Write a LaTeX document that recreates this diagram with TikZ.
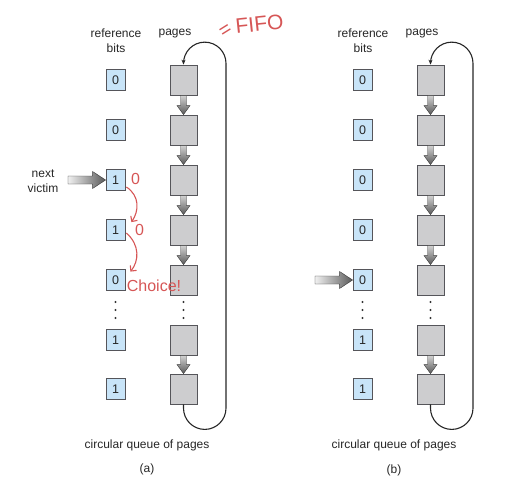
\documentclass[tikz,border=0pt]{standalone}
\usepackage{fontspec}
\setmainfont{Liberation Sans}
\usetikzlibrary{arrows.meta,calc}
\definecolor{bitfill}{RGB}{200,228,248}
\definecolor{pagefill}{RGB}{205,205,207}
\definecolor{boxline}{RGB}{85,85,90}
\definecolor{pen}{RGB}{214,86,86}
\newcommand\pagearrow[2]{%
  \shade[varrow] ([xshift=-3pt]#1.south) -- ([xshift=-3pt,yshift=9pt]#2.north)
    -- ([xshift=-6.5pt,yshift=9pt]#2.north) -- (#2.north)
    -- ([xshift=6.5pt,yshift=9pt]#2.north) -- ([xshift=3pt,yshift=9pt]#2.north)
    -- ([xshift=3pt]#1.south) -- cycle;}
\newcommand\victimarrow[2]{%
  \shade[harrow] ([yshift=4pt]#1) -- ([xshift=-13pt,yshift=4pt]#2.west)
    -- ([xshift=-13pt,yshift=8.5pt]#2.west) -- (#2.west)
    -- ([xshift=-13pt,yshift=-8.5pt]#2.west) -- ([xshift=-13pt,yshift=-4pt]#2.west)
    -- ([yshift=-4pt]#1) -- cycle;}
\begin{document}
\begin{tikzpicture}[x=1pt,y=-1pt,
  bit/.style={draw=boxline,fill=bitfill,line width=0.8pt,minimum width=19pt,minimum height=21pt,inner sep=0pt,font=\fontsize{12.5}{13}\selectfont,text=black!85},
  page/.style={draw=boxline,fill=pagefill,line width=0.8pt,minimum width=27pt,minimum height=30pt,inner sep=0pt},
  lbl/.style={font=\fontsize{12}{15}\selectfont,align=center,text=black!85,inner sep=0pt},
  varrow/.style={top color=gray!35,bottom color=gray!70!black,draw=gray!45!black,line width=0.4pt},
  harrow/.style={left color=gray!12,right color=gray!70!black,draw=gray!45!black,line width=0.4pt},
  looppath/.style={draw=black!85,line width=1.1pt,-{Stealth[length=5pt,width=4pt]}},
  hand/.style={text=pen,inner sep=0pt},
  penline/.style={draw=pen,line width=1.1pt,-{Straight Barb[length=4pt,width=8pt]}},
  dot/.style={fill=black!80}
]
\useasboundingbox (0,0) rectangle (516,484);

% ---------------- panel (a)
\foreach \i/\y/\v in {1/80/0,2/130/0,3/180/1,4/230/1,5/280/0,6/340/1,7/389/1}{
  \node[bit] (a\i) at (115.5,\y) {\v};
  \node[page] (p\i) at (183.5,\y) {};
}
\pagearrow{p1}{p2}\pagearrow{p2}{p3}\pagearrow{p3}{p4}\pagearrow{p4}{p5}\pagearrow{p6}{p7}
\foreach \d in {302,310,318}{
  \fill[dot] (115.5,\d) circle (1.2);
  \fill[dot] (183.5,\d) circle (1.2);
}
\draw[looppath] (p7.south) -- ++(0,3.75) arc[start angle=180,end angle=0,radius=21.25]
  -- ++(0,-344.75) arc[start angle=0,end angle=-180,radius=21.25] -- (p1.north);
\node[lbl] (rbA) at (116,40.5) {reference\\bits};
\node[lbl] (pgA) at (175,34) {pages};
\node[lbl] (nv) at (43,181.5) {next\\victim};
\coordinate (nvA) at (68,180);
\victimarrow{nvA}{a3}
\node[lbl] (capA) at (147,445) {circular queue of pages};
\node[lbl] (ta) at (147,469) {(a)};

% handwritten notes
\node[hand,font=\fontsize{21}{21}\selectfont,rotate=6] (fifo) at (259.5,24) {FIFO};
\node[hand,font=\fontsize{20}{20}\selectfont,rotate=32] (eq) at (226,31) {=};
\node[hand,font=\fontsize{16}{16}\selectfont] (z1) at (135.5,179) {0};
\node[hand,font=\fontsize{16}{16}\selectfont] (z2) at (139.5,230) {0};
\node[hand,font=\fontsize{16}{16}\selectfont] (ch) at (154,286) {Choice!};
\draw[penline] ([xshift=1pt,yshift=-7pt]a3.east) .. controls (140,196) and (139,211) .. ([xshift=6pt,yshift=-3pt]a4.north east);
\draw[penline] ([xshift=1pt,yshift=-3pt]a4.east) .. controls (140,245) and (139,261) .. ([xshift=5pt,yshift=-2.5pt]a5.north east);

% ---------------- panel (b)
\foreach \i/\y/\v in {1/80/0,2/130/0,3/180/0,4/230/0,5/280/0,6/340/1,7/389/1}{
  \node[bit] (b\i) at (362.5,\y) {\v};
  \node[page] (q\i) at (430.5,\y) {};
}
\pagearrow{q1}{q2}\pagearrow{q2}{q3}\pagearrow{q3}{q4}\pagearrow{q4}{q5}\pagearrow{q6}{q7}
\foreach \d in {302,310,318}{
  \fill[dot] (362.5,\d) circle (1.2);
  \fill[dot] (430.5,\d) circle (1.2);
}
\draw[looppath] (q7.south) -- ++(0,3.75) arc[start angle=180,end angle=0,radius=21.25]
  -- ++(0,-344.75) arc[start angle=0,end angle=-180,radius=21.25] -- (q1.north);
\node[lbl] (rbB) at (363,40.5) {reference\\bits};
\node[lbl] (pgB) at (422,34) {pages};
\coordinate (nvB) at (315,280);
\victimarrow{nvB}{b5}
\node[lbl] (capB) at (394,445) {circular queue of pages};
\node[lbl] (tb) at (394,470) {(b)};
\end{tikzpicture}
\end{document}
